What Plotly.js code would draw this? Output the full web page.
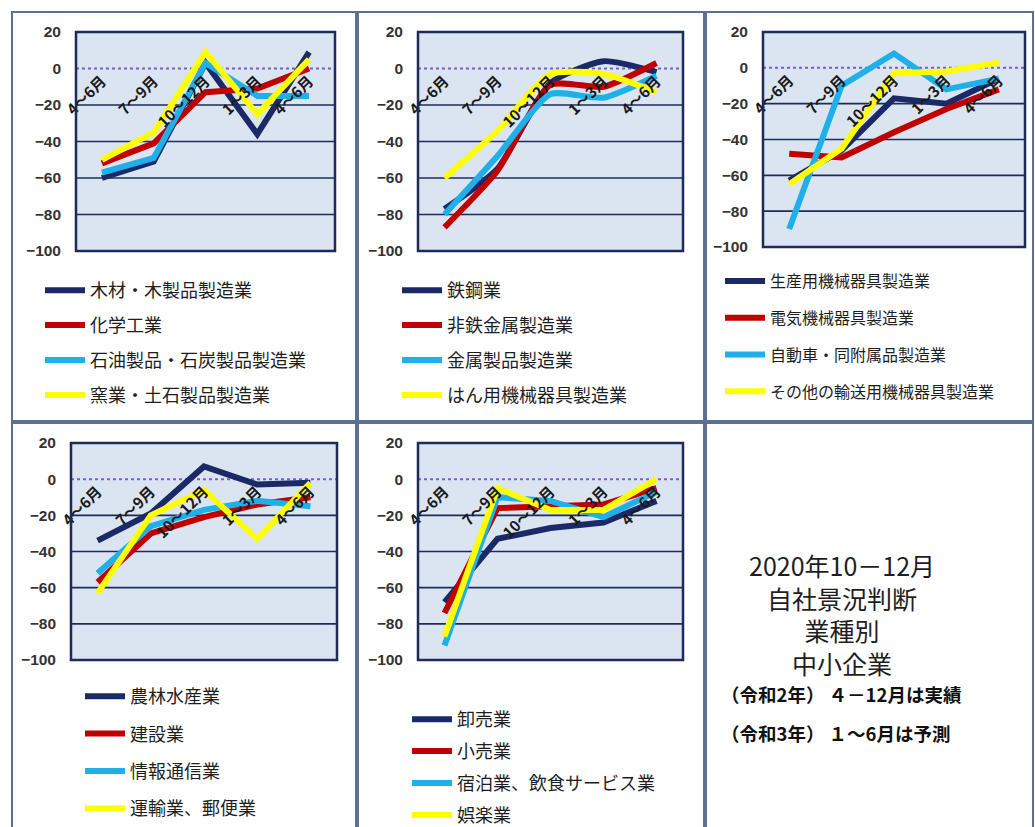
<!DOCTYPE html>
<html>
<head>
<meta charset="utf-8">
<script src="https://cdn.plot.ly/plotly-3.0.1.min.js"></script>
<style>html,body{margin:0;padding:0;background:#fff;}#chart{width:1035px;height:827px;}</style>
</head>
<body>
<div id="chart"></div>
<script>
// ---------- data ----------
const periods = ['4～6月', '7～9月', '10～12月', '1～3月', '4～6月'];

const names1 = ['木材・木製品製造業', '化学工業', '石油製品・石炭製品製造業', '窯業・土石製品製造業'];
const mokuzai   = [-60, -51, 3, -36, 9];
const kagaku    = [-52, -41, -13, -11, 0];
const sekiyu    = [-57, -49, 3, -15, -15];
const yogyo     = [-50, -35, 9, -25, 5];

const names2 = ['鉄鋼業', '非鉄金属製造業', '金属製品製造業', 'はん用機械器具製造業'];
const tekko     = [-77, -55, -8, 4, -2];
const hitetsu   = [-87, -56, -9, -10, 3];
const kinzoku   = [-80, -48, -14, -16, -4];
const hanyo     = [-60, -34, -3, -3, -13];

const names3 = ['生産用機械器具製造業', '電気機械器具製造業', '自動車・同附属品製造業', 'その他の輸送用機械器具製造業'];
const seisanyo  = [-63, -46, -17, -20, -6];
const denki     = [-48, -50, -36, -23, -12];
const jidosha   = [-90, -10, 8, -12, -6];
const yuso      = [-65, -45, -3, -2, 3];

const names4 = ['農林水産業', '建設業', '情報通信業', '運輸業、郵便業'];
const norin     = [-34, -19, 7, -3, -2];
const kensetsu  = [-57, -30, -21, -14, -10];
const joho      = [-52, -26, -17, -12, -15];
const unyu      = [-63, -20, -6, -33, -2];

const names5 = ['卸売業', '小売業', '宿泊業、飲食サービス業', '娯楽業'];
const oroshi    = [-68, -33, -27, -24, -12];
const kouri     = [-74, -16, -15, -14, -5];
const shukuhaku = [-92, -10, -12, -21, -7];
const goraku    = [-87, -5, -17, -17, 0];

const yTicks = [-100, -80, -60, -40, -20, 0, 20];

// ---------- styling / layout ----------
const W = 1035, H = 827;
const fx = v => v / W;
const fy = v => 1 - v / H;
const lineColors = ['#1b2a66', '#c00000', '#1fb0ea', '#ffff00'];
const plotBg = '#dbe5f2';
const gridCol = '#1f2b57';
const JP = '"Noto Sans CJK JP", "Noto Sans", sans-serif';

const panels = [
  {names: names1, series: [mokuzai, kagaku, sekiyu, yogyo], box: [76, 335, 32, 251], leg: [40, 272], gap: 8.5, fs: 18},
  {names: names2, series: [tekko, hitetsu, kinzoku, hanyo], box: [418, 683, 32, 251], leg: [397, 272], gap: 8.5, fs: 18},
  {names: names3, series: [seisanyo, denki, jidosha, yuso], box: [763, 1025, 32, 247], leg: [720, 264], gap: 13, fs: 16},
  {names: names4, series: [norin, kensetsu, joho, unyu], box: [71, 337, 443, 660], leg: [80, 678], gap: 11, fs: 18},
  {names: names5, series: [oroshi, kouri, shukuhaku, goraku], box: [418, 683, 443, 660], leg: [407, 701], gap: 5.5, fs: 18}
];

const xIdx = periods.map((_, i) => i);
const traces = [];
const layout = {
  width: W, height: H,
  margin: {l: 0, r: 0, t: 0, b: 0, autoexpand: false},
  paper_bgcolor: '#ffffff',
  plot_bgcolor: plotBg,
  shapes: [],
  annotations: [],
  font: {family: JP, color: '#1e1e1e'}
};

panels.forEach((p, pi) => {
  const k = pi + 1;
  const sfx = k === 1 ? '' : String(k);
  const xa = 'x' + sfx, ya = 'y' + sfx;
  const legName = 'legend' + sfx;
  const [l, r, t, b] = p.box;
  const yd = [fy(b), fy(t)];
  const zeroPos = yd[0] + (100 / 120) * (yd[1] - yd[0]);

  p.series.forEach((vals, i) => {
    traces.push({
      type: 'scatter', mode: 'lines',
      x: xIdx, y: vals, name: p.names[i],
      xaxis: xa, yaxis: ya,
      legend: legName, legendgroup: 'g' + k + '_' + i,
      line: {color: lineColors[i], width: 6, shape: pi === 1 ? 'spline' : 'linear', smoothing: 0.6},
      hoverinfo: 'skip'
    });
  });

  layout['xaxis' + sfx] = {
    domain: [fx(l), fx(r)], range: [-0.5, 4.5],
    tickmode: 'array', tickvals: xIdx, ticktext: periods, tickangle: -45,
    anchor: 'free', position: zeroPos,
    showgrid: false, zeroline: false, showline: false, ticks: '',
    tickfont: {family: JP, size: 15, color: '#1a1a1a', weight: 'bold'},
    fixedrange: true
  };
  layout['yaxis' + sfx] = {
    domain: yd, range: [-100, 20], anchor: xa,
    tickmode: 'array', tickvals: yTicks,
    showgrid: false, zeroline: false, showline: false, ticks: '',
    ticklabelstandoff: 14,
    tickfont: {family: 'Liberation Sans, Arial, sans-serif', size: 15.5, color: '#333', weight: 'bold'},
    fixedrange: true
  };
  layout[legName] = {
    x: fx(p.leg[0]), y: fy(p.leg[1]), xanchor: 'left', yanchor: 'top',
    bgcolor: 'rgba(0,0,0,0)', borderwidth: 0,
    font: {family: JP, size: p.fs, color: '#1e1e1e'},
    tracegroupgap: p.gap, itemwidth: 40
  };

  // horizontal grid lines (except the zero line), placed through the y scale
  yTicks.filter(v => v !== 0).forEach(v => layout.shapes.push({
    type: 'line', xref: xa + ' domain', yref: ya, x0: 0, x1: 1, y0: v, y1: v,
    line: {color: gridCol, width: 1.6}, layer: 'below'}));
  // zero reference (dotted purple), under the traces
  layout.shapes.push({type: 'line', xref: xa + ' domain', yref: ya, x0: 0, x1: 1, y0: 0, y1: 0,
    line: {color: '#7a5ccc', width: 2, dash: 'dot'}, layer: 'below'});
  // plot-area frame
  layout.shapes.push({type: 'rect', xref: xa + ' domain', yref: ya + ' domain', x0: 0, x1: 1, y0: 0, y1: 1,
    line: {color: gridCol, width: 2.5}, layer: 'above'});
});

// panel borders
const frames = [[12, 356, 12, 421], [358, 704, 12, 421], [706, 1033, 12, 421],
                [12, 356, 423, 835], [358, 704, 423, 835], [706, 1033, 423, 835]];
frames.forEach(f => layout.shapes.push({type: 'rect', xref: 'paper', yref: 'paper',
  x0: fx(f[0]), x1: fx(f[1]), y0: fy(f[3]), y1: fy(f[2]),
  line: {color: '#5d6f93', width: 2}, layer: 'below'}));

// text panel
const titleLines = ['2020年10－12月', '自社景況判断', '業種別', '中小企業'];
layout.annotations.push({
  xref: 'paper', yref: 'paper', x: fx(842), y: fy(614), xanchor: 'center', yanchor: 'middle',
  text: titleLines.join('<br>'), showarrow: false, align: 'center',
  font: {family: JP, size: 25, color: '#1e1e1e'}
});
const notes = ['（令和2年） ４－12月は実績', '（令和3年） １～6月は予測'];
const notesY = [694, 733];
notes.forEach((s, i) => layout.annotations.push({
  xref: 'paper', yref: 'paper', x: fx(719), y: fy(notesY[i]), xanchor: 'left', yanchor: 'middle',
  text: s, showarrow: false, font: {family: JP, size: 18.5, color: '#111', weight: 'bold'}
}));

Plotly.newPlot('chart', traces, layout, {displayModeBar: false, staticPlot: true});
</script>
</body>
</html>
